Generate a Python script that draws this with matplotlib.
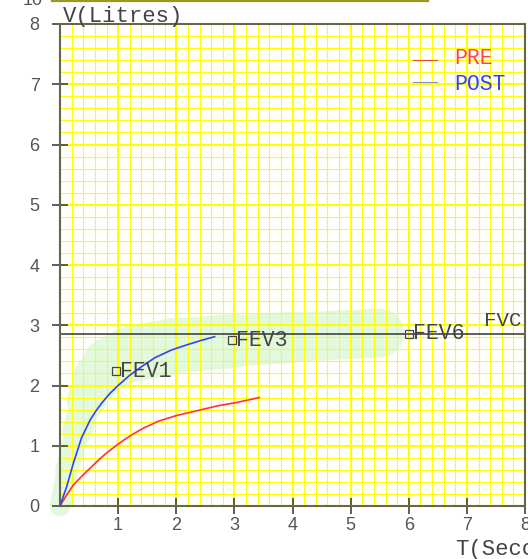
import numpy as np
import matplotlib
matplotlib.use("Agg")
import matplotlib.pyplot as plt
from matplotlib.collections import LineCollection
from matplotlib.lines import Line2D

# spirometre egrileri (okunan degerler)
post_t = [0, 0.06, 0.115, 0.23, 0.37, 0.52, 0.62, 0.72, 0.85, 1.0, 1.2, 1.4, 1.63, 1.92, 2.2, 2.4, 2.66]
post_v = [0, 0.17, 0.32, 0.71, 1.13, 1.43, 1.58, 1.71, 1.86, 2.0, 2.17, 2.31, 2.46, 2.59, 2.68, 2.74, 2.81]

pre_t = [0, 0.1, 0.23, 0.38, 0.52, 0.66, 0.8, 0.95, 1.09, 1.25, 1.45, 1.7, 2.0, 2.35, 2.7, 3.05, 3.43]
pre_v = [0, 0.16, 0.35, 0.5, 0.63, 0.76, 0.88, 0.99, 1.09, 1.19, 1.3, 1.41, 1.5, 1.58, 1.66, 1.72, 1.8]

fvc = 2.85
fev_names = ["FEV1", "FEV3", "FEV6"]
fev_t = [0.97, 2.96, 6.0]
fev_v = [2.24, 2.75, 2.86]

# yesil vurgu bandi (merkez + genislik px)
band_t = [0.0, 0.12, 0.3, 0.45, 0.62, 0.85, 1.2, 2.0, 3.0, 4.0, 5.5]
band_v = [0.0, 0.6, 1.25, 1.75, 2.1, 2.35, 2.52, 2.66, 2.74, 2.8, 2.87]
band_w = [20, 21, 26, 34, 44, 52, 56, 56, 52, 50, 48]

x_ticks = [1, 2, 3, 4, 5, 6, 7, 8]
y_ticks = [0, 1, 2, 3, 4, 5, 6, 7, 8]

W, H = 528, 559
fig = plt.figure(figsize=(W / 100, H / 100), dpi=100)
ax = fig.add_axes([60 / W, (H - 506) / H, 465 / W, 482 / H])
ax.set_xlim(0, 8)
ax.set_ylim(0, 8)

mono = "Liberation Mono"
sans = "Liberation Sans"

# grid
ax.set_xticks(x_ticks)
ax.set_yticks(y_ticks)
ax.set_xticks(np.arange(0, 8.01, 0.2), minor=True)
ax.set_yticks(np.arange(0, 8.01, 0.2), minor=True)
ax.grid(which="minor", color="#ffff00", lw=0.8)
ax.grid(which="major", color="#ffff00", lw=1.5)
ax.set_axisbelow(True)

# band
pts = np.column_stack([band_t, band_v])
segs = [pts[i:i + 2] for i in range(len(pts) - 1)]
widths = [(band_w[i] + band_w[i + 1]) / 2 * 0.72 for i in range(len(pts) - 1)]
lc = LineCollection(segs, linewidths=widths, colors="#e2f9df", capstyle="round",
                    joinstyle="round", zorder=0.2, clip_on=False)
ax.add_collection(lc)

ax.axhline(fvc, color="#333333", lw=1.1, zorder=2)
ax.plot(pre_t, pre_v, color="#ff3333", lw=1.2, zorder=3)
ax.plot(post_t, post_v, color="#3344ee", lw=1.2, zorder=3)

for name, t, v in zip(fev_names, fev_t, fev_v):
    ax.plot(t, v, marker="s", ms=5.5, mfc="none", mec="#444444", mew=0.9, zorder=4)
    ax.text(t + 0.07, v, name, family=mono, fontsize=15.5, color="#444444",
            va="center", ha="left", zorder=4)
ax.text(7.3, 3.08, "FVC", family=mono, fontsize=15, color="#444444", va="center")

# legend
ax.plot([6.07, 6.48], [7.40, 7.40], color="#e05020", lw=0.8)
ax.plot([6.07, 6.48], [7.04, 7.04], color="#8890c0", lw=0.8)
ax.text(6.79, 7.42, "PRE", family=mono, fontsize=15.5, color="#ff4444", va="center")
ax.text(6.79, 7.0, "POST", family=mono, fontsize=15.5, color="#3344ee", va="center")

for s in ax.spines.values():
    s.set_color("#66664a")
    s.set_linewidth(1.5)
ax.tick_params(which="minor", length=0)
ax.tick_params(which="major", direction="inout", length=11.5, width=1.1,
               color="#333333", labelcolor="#555555", labelsize=13)
ax.tick_params(axis="y", pad=9)
ax.tick_params(axis="x", pad=2)
for lab in ax.get_xticklabels() + ax.get_yticklabels():
    lab.set_family(sans)

fig.text(63 / W, 1 - 22 / H, "V(Litres)", family=mono, fontsize=16, color="#444444",
         ha="left", va="baseline")
fig.text(455 / W, 1 - 555 / H, "T(Seconds)", family=mono, fontsize=16, color="#444444",
         ha="left", va="baseline")

# ustteki kesik panel parcasi
fig.text(43 / W, 1 - 5 / H, "10", family=sans, fontsize=13, color="#555555",
         ha="right", va="baseline")
fig.add_artist(Line2D([52 / W, 428 / W], [1 - 0.8 / H, 1 - 0.8 / H], color="#999922",
                      lw=1.6, transform=fig.transFigure))

fig.savefig("out.png", dpi=100)
